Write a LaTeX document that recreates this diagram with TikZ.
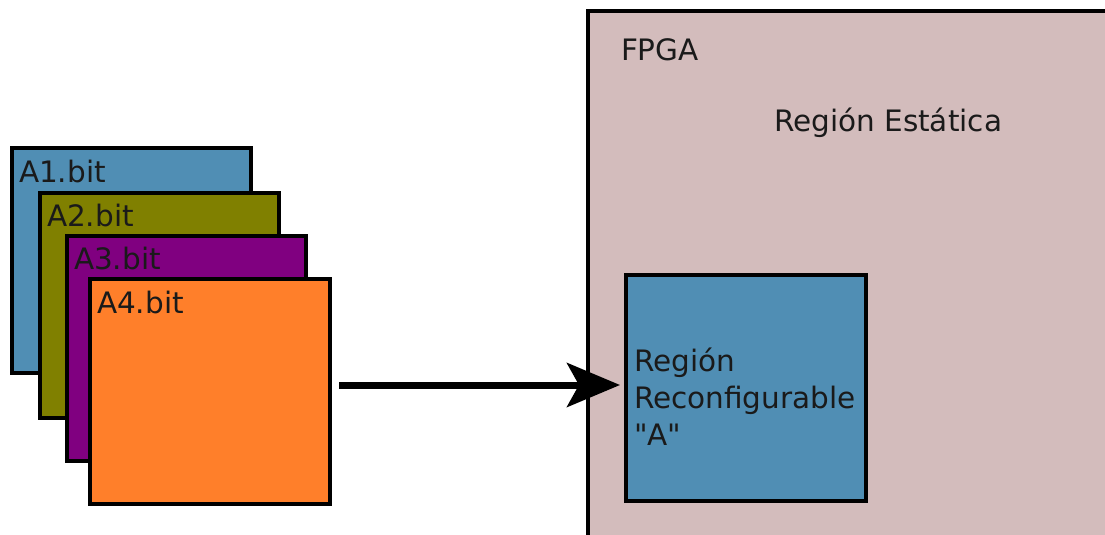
\documentclass[tikz,border=0pt]{standalone}
\usepackage{fontspec}
\setmainfont{DejaVu Sans}[Ligatures=TeXOff]
\usetikzlibrary{arrows.meta}
\definecolor{bitblue}{HTML}{508EB4}
\definecolor{bitolive}{HTML}{808000}
\definecolor{bitpurple}{HTML}{800080}
\definecolor{bitorange}{HTML}{FF7F2A}
\definecolor{fpgabg}{HTML}{D3BCBC}
\definecolor{ink}{HTML}{1A1A1A}
\tikzset{
  bitbox/.style={draw=black, line width=4.5pt, inner sep=0pt, outer sep=0pt,
    minimum width=239pt, minimum height=225pt, anchor=north west},
  lbl/.style={inner sep=0pt, outer sep=0pt, anchor=base west, text=ink,
    font=\fontsize{29.5}{37}\selectfont},
  arr/.style={line width=7pt, -{Stealth[length=53pt,width=44pt,inset=12pt]}},
}
\begin{document}
\begin{tikzpicture}[x=1pt,y=-1pt]
\useasboundingbox (0,0) rectangle (1105,535);
\clip (0,0) rectangle (1105,535);

% stack of bitstream files
\node[bitbox, fill=bitblue] (a1) at (12,148) {};
\node[lbl] (t1) at ([xshift=7pt,yshift=-34pt]a1.north west) {A1.bit};
\node[bitbox, fill=bitolive] (a2) at (40,193) {};
\node[lbl] (t2) at ([xshift=7pt,yshift=-33pt]a2.north west) {A2.bit};
\node[bitbox, fill=bitpurple] (a3) at (67,236) {};
\node[lbl] (t3) at ([xshift=7pt,yshift=-33pt]a3.north west) {A3.bit};
\node[bitbox, fill=bitorange, minimum width=240pt] (a4) at (90,279) {};
\node[lbl] (t4) at ([xshift=7pt,yshift=-34pt]a4.north west) {A4.bit};

% FPGA device with its static region
\node[draw=black, line width=4.5pt, fill=fpgabg, inner sep=0pt, outer sep=0pt,
      minimum width=540pt, minimum height=545pt, anchor=north west] (fpga) at (588,11) {};
\node[lbl] (tf) at (621,61) {FPGA};
\node[lbl] (ts) at (774,131) {Región Estática};

% reconfigurable region
\node[draw=black, line width=4.5pt, fill=bitblue, inner sep=0pt, outer sep=0pt,
      minimum width=240pt, minimum height=226pt, anchor=north west] (rr) at (626,275) {};
\node[lbl, align=left, anchor=north west] (tr) at (634,348)
  {Región\\Reconfigurable\\"A"};

% loading arrow
\draw[arr] ([xshift=9pt]a4.east |- 0,385) -- ([xshift=-6pt]rr.west |- 0,385);
\end{tikzpicture}
\end{document}
